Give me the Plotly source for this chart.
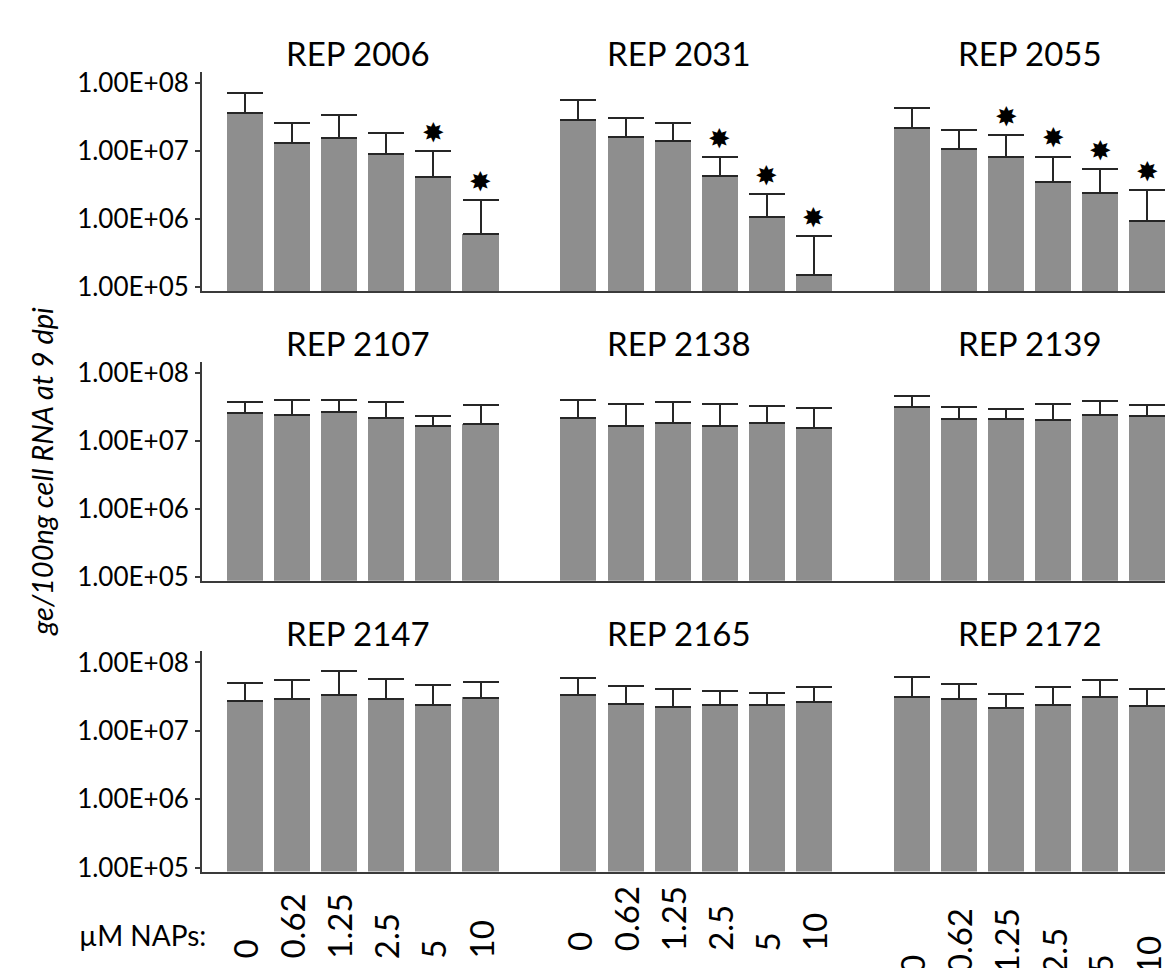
import math
import plotly.graph_objects as go

# NAP doses (µM) tested on each isolate
doses = ["0", "0.62", "1.25", "2.5", "5", "10"]

# isolates laid out as a 3x3 grid (row by row)
isolates = [
    ["REP 2006", "REP 2031", "REP 2055"],
    ["REP 2107", "REP 2138", "REP 2139"],
    ["REP 2147", "REP 2165", "REP 2172"],
]

# mean genome equivalents / 100 ng cell RNA at 9 dpi
mean_2006 = [3.6e7, 1.3e7, 1.55e7, 8.9e6, 4.1e6, 6.0e5]
mean_2031 = [2.85e7, 1.6e7, 1.4e7, 4.3e6, 1.06e6, 1.5e5]
mean_2055 = [2.2e7, 1.06e7, 8.0e6, 3.5e6, 2.4e6, 9.2e5]
mean_2107 = [2.57e7, 2.38e7, 2.66e7, 2.18e7, 1.66e7, 1.75e7]
mean_2138 = [2.13e7, 1.64e7, 1.83e7, 1.62e7, 1.83e7, 1.52e7]
mean_2139 = [3.13e7, 2.11e7, 2.11e7, 1.98e7, 2.35e7, 2.3e7]
mean_2147 = [2.77e7, 2.89e7, 3.38e7, 2.96e7, 2.4e7, 3.06e7]
mean_2165 = [3.38e7, 2.45e7, 2.21e7, 2.4e7, 2.4e7, 2.62e7]
mean_2172 = [3.16e7, 2.89e7, 2.14e7, 2.4e7, 3.16e7, 2.29e7]

# upper error (SD)
sd_2006 = [3.5e7, 1.3e7, 1.85e7, 9.1e6, 5.8e6, 1.3e6]
sd_2031 = [2.65e7, 1.4e7, 1.2e7, 3.7e6, 1.24e6, 4.1e5]
sd_2055 = [2.0e7, 9.4e6, 9.0e6, 4.7e6, 3.0e6, 1.73e6]
sd_2107 = [1.07e7, 1.6e7, 1.32e7, 1.46e7, 6.2e6, 1.59e7]
sd_2138 = [1.76e7, 1.77e7, 1.81e7, 1.79e7, 1.44e7, 1.51e7]
sd_2139 = [1.41e7, 1.02e7, 7.6e6, 1.43e7, 1.42e7, 1.0e7]
sd_2147 = [2.22e7, 2.68e7, 4.05e7, 2.8e7, 2.21e7, 2.15e7]
sd_2165 = [2.58e7, 2.15e7, 1.92e7, 1.46e7, 1.21e7, 1.8e7]
sd_2172 = [3.06e7, 1.93e7, 1.27e7, 2.02e7, 2.34e7, 1.79e7]

# significant reduction vs. untreated (1 = marked with a star)
sig_2006 = [0, 0, 0, 0, 1, 1]
sig_2031 = [0, 0, 0, 1, 1, 1]
sig_2055 = [0, 0, 1, 1, 1, 1]
sig_none = [0, 0, 0, 0, 0, 0]

means = [[mean_2006, mean_2031, mean_2055],
         [mean_2107, mean_2138, mean_2139],
         [mean_2147, mean_2165, mean_2172]]
sds = [[sd_2006, sd_2031, sd_2055],
       [sd_2107, sd_2138, sd_2139],
       [sd_2147, sd_2165, sd_2172]]
sigs = [[sig_2006, sig_2031, sig_2055],
        [sig_none, sig_none, sig_none],
        [sig_none, sig_none, sig_none]]

y_tickvals = [1e5, 1e6, 1e7, 1e8]
y_ticktext = ["1.00E+05", "1.00E+06", "1.00E+07", "1.00E+08"]

# ---- layout constants (pixels) ----
W, H = 1165, 968
LEFT = 202
UNIT = 47.1            # px per bar slot
GROUP_STRIDE = 7.08    # slots between group starts
row_px = [(67, 290), (362, 585), (657, 881)]
BAR_COLOR = "#8e8e8e"
AXIS_COLOR = "#3a3a3a"
FONT = "Lato"

x0 = -(245 - LEFT) / UNIT
x_range = [x0, x0 + (W - LEFT) / UNIT]
y_range = [4.945, 8.16]


def py(p):
    return 1 - p / H


def px(p):
    return p / W


fig = go.Figure()
annotations = []
title_xshift = [-5, -17, 0]

for r in range(3):
    xa = "x" if r == 0 else f"x{r + 1}"
    ya = "y" if r == 0 else f"y{r + 1}"
    for g in range(3):
        xs = [g * GROUP_STRIDE + i for i in range(len(doses))]
        m = means[r][g]
        e = sds[r][g]
        fig.add_trace(go.Bar(
            x=xs, y=m, xaxis=xa, yaxis=ya,
            width=0.765, marker=dict(color=BAR_COLOR, line=dict(width=0)),
            error_y=dict(type="data", array=e, arrayminus=[0] * len(e),
                         symmetric=False, color="#262626", thickness=2, width=18),
            showlegend=False, hoverinfo="skip",
        ))
        # significance stars above the error caps
        for i, s in enumerate(sigs[r][g]):
            if s:
                annotations.append(dict(
                    x=xs[i], y=math.log10(m[i] + e[i]), xref=xa, yref=ya,
                    text="✸", showarrow=False, yshift=19,
                    font=dict(family="DejaVu Sans", size=27, color="black"),
                    xanchor="center", yanchor="middle",
                ))
        # panel title
        annotations.append(dict(
            x=g * GROUP_STRIDE + 2.5, xref=xa, xshift=title_xshift[g],
            y=py(row_px[r][0] - 19), yref="paper",
            text=isolates[r][g], showarrow=False,
            font=dict(family=FONT, size=33, color="black"),
            xanchor="center", yanchor="middle",
        ))

    top, bottom = row_px[r]
    dom = [py(bottom), py(top)]
    xkey = "xaxis" if r == 0 else f"xaxis{r + 1}"
    ykey = "yaxis" if r == 0 else f"yaxis{r + 1}"
    fig.layout[xkey] = dict(
        domain=[px(LEFT), 1], range=x_range, anchor=ya,
        showline=True, linecolor=AXIS_COLOR, linewidth=2,
        showticklabels=False, ticks="", showgrid=False, zeroline=False,
    )
    fig.layout[ykey] = dict(
        domain=dom, type="log", range=y_range, anchor=xa,
        showline=True, linecolor=AXIS_COLOR, linewidth=2,
        tickvals=y_tickvals, ticktext=y_ticktext,
        ticks="outside", ticklen=5, tickwidth=2, tickcolor=AXIS_COLOR,
        ticklabelstandoff=1,
        tickfont=dict(family=FONT, size=26, color="black"),
        showgrid=False, zeroline=False,
    )

# dose labels under the bottom row
label_bottom = [972, 964, 987]
for g in range(3):
    for i, d in enumerate(doses):
        annotations.append(dict(
            x=g * GROUP_STRIDE + i, xref="x3",
            y=py(label_bottom[g]), yref="paper",
            text=d, textangle=-90, showarrow=False,
            font=dict(family=FONT, size=33, color="black"),
            xanchor="center", yanchor="bottom",
        ))

annotations.append(dict(
    x=px(208), xref="paper", y=py(946), yref="paper",
    text="µM NAPs:", showarrow=False,
    font=dict(family=FONT, size=28, color="black"),
    xanchor="right", yanchor="middle",
))

annotations.append(dict(
    x=px(42), xref="paper", y=py(474), yref="paper",
    text="<i>ge/100ng cell RNA at 9 dpi</i>", textangle=-90, showarrow=False,
    font=dict(family=FONT, size=29, color="black"),
    xanchor="center", yanchor="middle",
))

fig.update_layout(
    width=W, height=H,
    margin=dict(l=0, r=0, t=0, b=0),
    paper_bgcolor="white", plot_bgcolor="white",
    bargap=0, barmode="overlay",
    annotations=annotations,
    showlegend=False,
)

fig.write_html("out.html")
